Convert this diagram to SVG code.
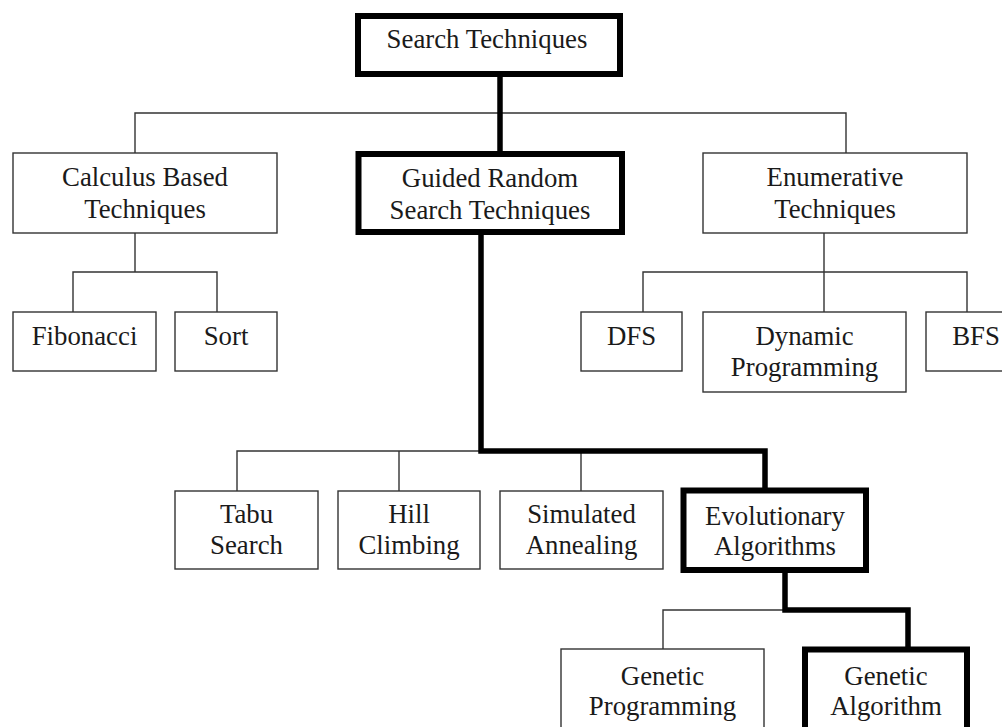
<svg xmlns="http://www.w3.org/2000/svg" width="1002" height="727" viewBox="0 0 1002 727">
<style>
.box{fill:#fff;stroke:#333;stroke-width:1.4}
.hb{fill:#fff;stroke:#000;stroke-width:6}
.t{font-family:"Liberation Serif","Times New Roman",serif;font-size:26.8px;fill:#1a1a1a;text-anchor:middle}
.thin{fill:none;stroke:#333;stroke-width:1.4}
.thick{fill:none;stroke:#000;stroke-width:5.5;stroke-linejoin:miter;stroke-linecap:square}
</style>
<rect width="1002" height="727" fill="#fff"/>
<g id="connectors">
<path class="thin" d="M135 153V113H846V153"/>
<path class="thin" d="M135 233V272M73 312V272H217V312"/>
<path class="thin" d="M824 233V312M643 312V272H967V312"/>
<path class="thin" d="M237 491V451H481M399 451V491M581 451V491"/>
<path class="thin" d="M663 649V610H785"/>
<path class="thick" d="M500 77V151"/>
<path class="thick" d="M481 235V451H765V488"/>
<path class="thick" d="M785 573V610H908V646"/>
</g>
<g id="search-techniques">
<rect class="hb" x="358" y="16" width="262" height="58"/>
<text class="t" x="487" y="48">Search Techniques</text>
</g>
<g id="calculus">
<rect class="box" x="13" y="153" width="264" height="80"/>
<text class="t" x="145" y="186">Calculus Based</text>
<text class="t" x="145" y="218">Techniques</text>
</g>
<g id="guided">
<rect class="hb" x="358.5" y="154" width="263.5" height="78"/>
<text class="t" x="490" y="187">Guided Random</text>
<text class="t" x="490" y="219">Search Techniques</text>
</g>
<g id="enumerative">
<rect class="box" x="703" y="153" width="264" height="80"/>
<text class="t" x="835" y="186">Enumerative</text>
<text class="t" x="835" y="218">Techniques</text>
</g>
<g id="fibonacci">
<rect class="box" x="13" y="312" width="143" height="59"/>
<text class="t" x="84.5" y="345">Fibonacci</text>
</g>
<g id="sort">
<rect class="box" x="175" y="312" width="102" height="59"/>
<text class="t" x="226" y="345">Sort</text>
</g>
<g id="dfs">
<rect class="box" x="581" y="312" width="101" height="59"/>
<text class="t" x="631.5" y="345">DFS</text>
</g>
<g id="dynamic-programming">
<rect class="box" x="703" y="312" width="203" height="80"/>
<text class="t" x="804.5" y="345">Dynamic</text>
<text class="t" x="804.5" y="376">Programming</text>
</g>
<g id="bfs">
<rect class="box" x="926" y="312" width="102" height="59"/>
<text class="t" x="976" y="345">BFS</text>
</g>
<g id="tabu">
<rect class="box" x="175" y="491" width="143" height="78"/>
<text class="t" x="246.5" y="523">Tabu</text>
<text class="t" x="246.5" y="554">Search</text>
</g>
<g id="hill">
<rect class="box" x="338" y="491" width="142" height="78"/>
<text class="t" x="409" y="523">Hill</text>
<text class="t" x="409" y="554">Climbing</text>
</g>
<g id="simulated">
<rect class="box" x="500" y="491" width="163" height="78"/>
<text class="t" x="581.5" y="523">Simulated</text>
<text class="t" x="581.5" y="554">Annealing</text>
</g>
<g id="evolutionary">
<rect class="hb" x="683.5" y="490.5" width="182.5" height="79.5"/>
<text class="t" x="775" y="525">Evolutionary</text>
<text class="t" x="775" y="555">Algorithms</text>
</g>
<g id="genetic-programming">
<rect class="box" x="561" y="649" width="203" height="100"/>
<text class="t" x="662.5" y="685">Genetic</text>
<text class="t" x="662.5" y="715">Programming</text>
</g>
<g id="genetic-algorithm">
<rect class="hb" x="805" y="649.5" width="162" height="100"/>
<text class="t" x="886" y="685">Genetic</text>
<text class="t" x="886" y="715">Algorithm</text>
</g>
</svg>
